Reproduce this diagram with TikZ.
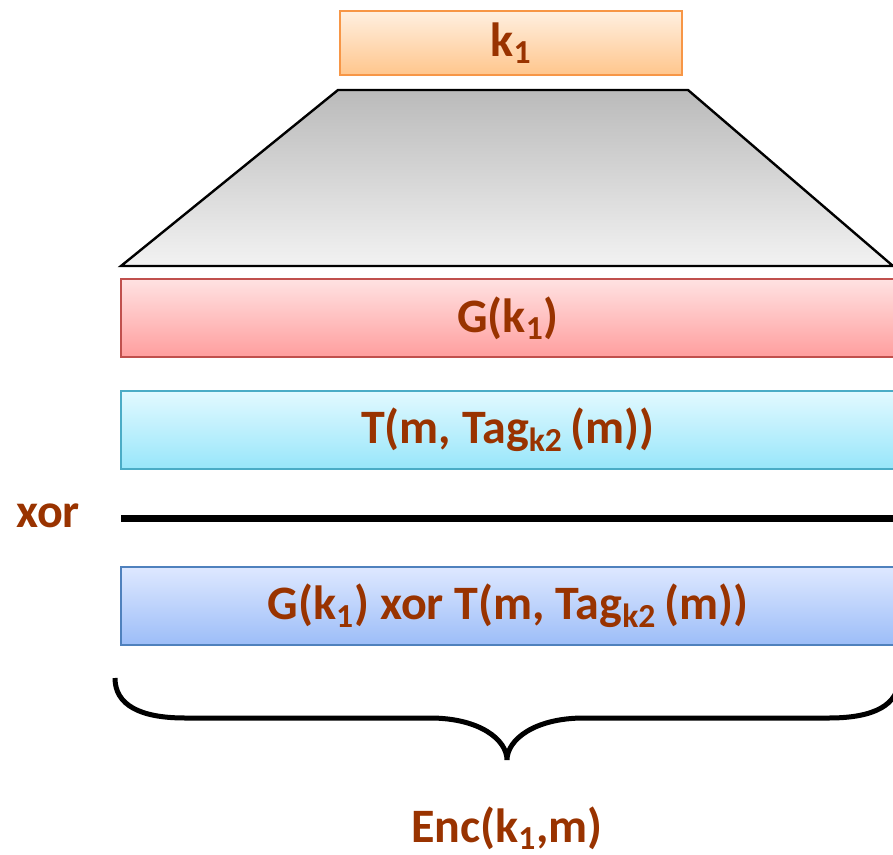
\documentclass[tikz,border=0pt]{standalone}
\usepackage{fontspec}
\setmainfont{Carlito}
\usepackage{tikz}
\usetikzlibrary{positioning}
\definecolor{txtred}{HTML}{993300}
\definecolor{keyline}{HTML}{F79646}

\begin{document}
\begin{tikzpicture}[
    x=0.5pt, y=-0.5pt,
    every node/.style={font=\fontsize{24}{28}\selectfont\bfseries, text=txtred},
    bar/.style={draw, line width=1pt, minimum width=387pt, minimum height=39pt, anchor=north west},
    keybar/.style={draw=keyline, line width=1pt, top color=orange!12, bottom color=orange!45, minimum width=171pt, minimum height=32pt, anchor=north west}
]
    \useasboundingbox (0,0) rectangle (893,855);
    % Key and generator
    \node[keybar] (key) at (339,10) {k\textsubscript{1}};
    \shade[top color=black!27, bottom color=black!5, draw=black, line width=1.2pt]
        (338,90) -- (688,90) -- (893,266) -- (121,266) -- cycle;
    % Rows
    \node[bar, draw={rgb,255:red,192;green,80;blue,77}, top color={rgb,255:red,255;green,226;blue,226}, bottom color={rgb,255:red,255;green,158;blue,158}] (gen) at (120,278) {G(k\textsubscript{1})};
    \node[bar, draw={rgb,255:red,75;green,172;blue,198}, top color={rgb,255:red,226;green,249;blue,255}, bottom color={rgb,255:red,152;green,230;blue,250}] (tag) at (120,390) {T(m, Tag\textsubscript{k2}\,(m))};
    \node (xor) at (48,516) {xor};
    \coordinate (xl) at (121,518);
    \coordinate (xr) at (893,518);
    \draw[line width=3.5pt] (xl) -- (xr);
    \node[bar, draw={rgb,255:red,79;green,129;blue,189}, top color={rgb,255:red,222;green,232;blue,255}, bottom color={rgb,255:red,156;green,189;blue,248}] (enc) at (120,566) {G(k\textsubscript{1}) xor T(m, Tag\textsubscript{k2}\,(m))};
    % Brace
    \draw[line width=2.5pt]
        (115,678) .. controls (115,705) and (140,718) .. (185,718) -- (430,718)
        .. controls (480,718) and (507,740) .. (507,760)
        .. controls (507,740) and (534,718) .. (584,718) -- (829,718)
        .. controls (874,718) and (899,705) .. (899,678);
    \node (result) at (507,828) {Enc(k\textsubscript{1},m)};
\end{tikzpicture}
\end{document}
